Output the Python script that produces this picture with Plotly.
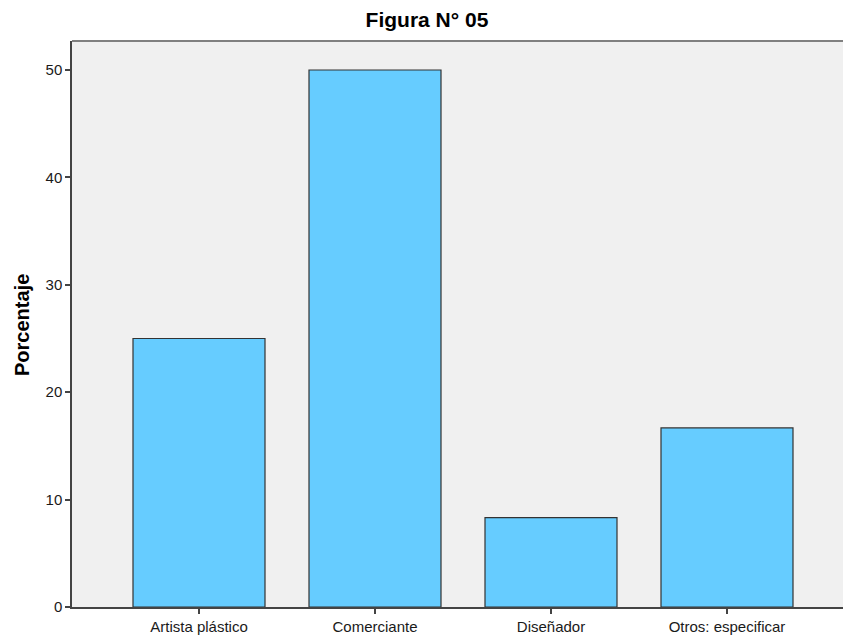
import plotly.graph_objects as go

categories = ["Artista plástico", "Comerciante", "Diseñador", "Otros: especificar"]
percentages = [25.0, 50.0, 8.33, 16.67]
y_ticks = [0, 10, 20, 30, 40, 50]

W, H = 843, 637
L, T, B = 72, 41, 30
plot_w = W - L
spacing = 176.0
x0 = -(199 - 72) / spacing
x1 = x0 + plot_w / spacing

fig = go.Figure()
fig.add_trace(go.Bar(
    x=list(range(len(categories))),
    y=percentages,
    width=0.75,
    marker=dict(color="#66CCFF", line=dict(color="#333333", width=1.2)),
    hoverinfo="skip",
))

font_fam = "Arial, Liberation Sans, sans-serif"
fig.update_layout(
    width=W, height=H,
    margin=dict(l=L, r=0, t=T, b=B),
    paper_bgcolor="white",
    plot_bgcolor="#F0F0F0",
    showlegend=False,
    font=dict(family=font_fam, color="#1a1a1a", size=15),
    title=dict(text="<b>Figura N° 05</b>", xref="container", yref="container",
               x=427 / W, y=1 - 20 / H, xanchor="center", yanchor="middle",
               font=dict(size=21, family=font_fam, color="#000000")),
    xaxis=dict(
        range=[x0, x1],
        tickmode="array",
        tickvals=list(range(len(categories))),
        ticktext=categories,
        showgrid=False, zeroline=False,
        showline=True, linecolor="#444444", linewidth=1.5,
        ticks="outside", ticklen=5, tickcolor="#444444", tickwidth=1.5,
        tickfont=dict(size=15, color="#1a1a1a"),
    ),
    yaxis=dict(
        range=[0, (607 - 41) / 10.74],
        tickmode="array",
        tickvals=y_ticks,
        ticktext=[str(v) for v in y_ticks],
        showgrid=False, zeroline=False,
        showline=True, linecolor="#444444", linewidth=1.5,
        ticks="outside", ticklen=5, tickcolor="#444444", tickwidth=1.5,
        tickfont=dict(size=15, color="#1a1a1a"),
    ),
    annotations=[dict(
        text="<b>Porcentaje</b>", textangle=-90,
        xref="paper", yref="paper",
        x=(22 - L) / plot_w, y=(607 - 325) / (607 - 41),
        xanchor="center", yanchor="middle", showarrow=False,
        font=dict(size=20, family=font_fam, color="#000000"),
    )],
    shapes=[dict(type="line", xref="paper", yref="paper", x0=0, x1=1, y0=1, y1=1,
                 line=dict(color="#808080", width=2))],
)

fig.write_html("out.html",
               config={"displayModeBar": False},
               post_script="document.body.style.margin='0';document.body.style.overflow='hidden';")
